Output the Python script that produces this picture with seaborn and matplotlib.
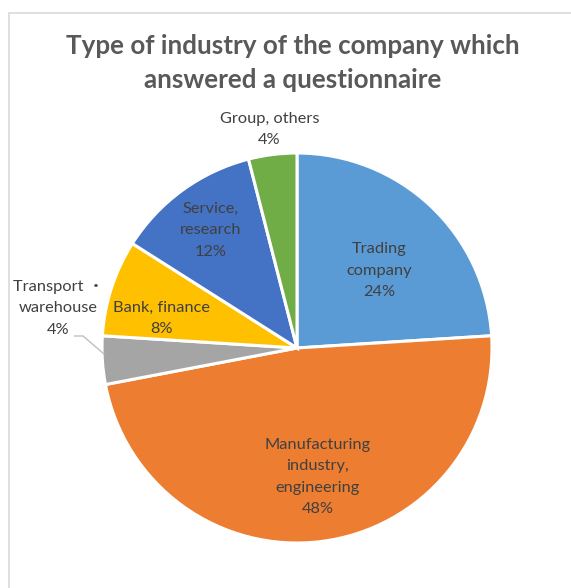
import numpy as np
import matplotlib
matplotlib.use("Agg")
import matplotlib.pyplot as plt
from matplotlib.patches import Rectangle
import seaborn as sns

# Survey results: share of respondents by industry (percent)
categories = ["Trading\ncompany", "Manufacturing\nindustry,\nengineering",
              "Transport ・\nwarehouse", "Bank, finance", "Service,\nresearch",
              "Group, others"]
shares = [24, 48, 4, 8, 12, 4]
title = "Type of industry of the company which\nanswered a questionnaire"

colors = sns.color_palette(["#5B9BD5", "#ED7D31", "#A5A5A5", "#FFC000",
                            "#4472C4", "#70AD47"])

sns.set_theme(style="white")
plt.rcParams["font.family"] = ["Lato", "Noto Sans CJK JP", "DejaVu Sans"]

W, H = 571, 588
fig = plt.figure(figsize=(W / 100, H / 100), dpi=100)
fig.patch.set_facecolor("white")

# Thin chart-area frame
fig.add_artist(Rectangle((9 / W, -0.05), 1.2, 1 - 13 / H + 0.05,
                         transform=fig.transFigure, fill=False,
                         edgecolor="#D9D9D9", linewidth=1.2))

# Pie centre at (297, 348) px, radius 195 px
cx, cy, R = 297, 348, 195
ax = fig.add_axes([0, 0, 1, 1])
wedges, _ = ax.pie(shares, colors=colors, startangle=90, counterclock=False,
                   radius=1.0,
                   wedgeprops=dict(edgecolor="white", linewidth=2.2))
ax.set_xlim(-cx / R, (W - cx) / R)
ax.set_ylim(-(H - cy) / R, cy / R)
ax.set_aspect("auto")
ax.axis("off")

# Label placement: radial distance and angular nudge for each slice
label_dist = [0.58, 0.67, 1.24, 0.71, 0.75, 1.13]
angle_shift = [-3.6, 1.8, -13.1, 5.6, 0.4, 0.0]

start = 90.0
for i, (lab, val) in enumerate(zip(categories, shares)):
    sweep = val / sum(shares) * 360
    mid = start - sweep / 2 + angle_shift[i]
    start -= sweep
    th = np.deg2rad(mid)
    x, y = label_dist[i] * np.cos(th), label_dist[i] * np.sin(th)
    ax.text(x, y, f"{lab}\n{val}%", ha="center", va="center",
            fontsize=11.8, color="#404040", linespacing=1.68)

# Leader line for the small outside label
mid_t = 90 - (24 + 48 + 2) / 100 * 360
th = np.deg2rad(mid_t)
ex, ey = 0.99 * np.cos(th), 0.99 * np.sin(th) + 0.03
ax.plot([(74 - cx) / R, (83 - cx) / R, ex], [(cy - 336) / R, (cy - 336) / R, ey],
        color="#BFBFBF", linewidth=1.0, solid_capstyle="butt")

fig.text(293 / W, 1 - 63 / H, title, ha="center", va="center",
         fontsize=18.7, fontweight="bold", color="#595959", linespacing=1.45)

fig.savefig("out.png", dpi=100, facecolor="white")
